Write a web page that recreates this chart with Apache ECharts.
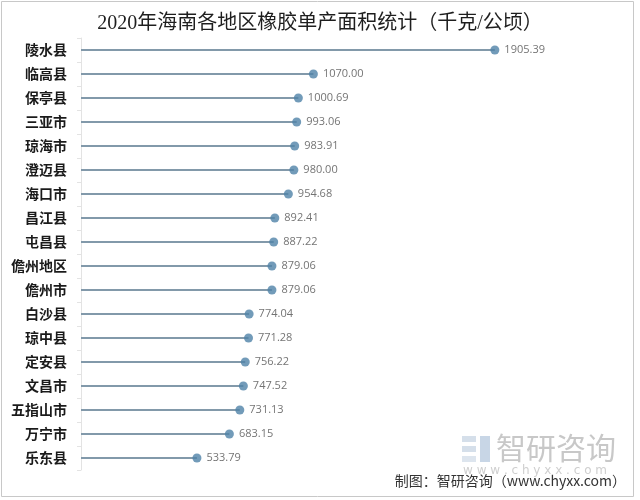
<!DOCTYPE html>
<html><head><meta charset="utf-8">
<script src="https://cdn.jsdelivr.net/npm/echarts@6/dist/echarts.min.js"></script>
<style>html,body{margin:0;padding:0;background:#fff}#c{width:640px;height:500px}</style>
</head><body><div id="c"></div>
<script>
var titleText = '2020年海南各地区橡胶单产面积统计（千克/公顷）';
var regions = ['陵水县','临高县','保亭县','三亚市','琼海市','澄迈县','海口市','昌江县','屯昌县','儋州地区','儋州市','白沙县','琼中县','定安县','文昌市','五指山市','万宁市','乐东县'];
var yieldValues = [1905.39,1070.00,1000.69,993.06,983.91,980.00,954.68,892.41,887.22,879.06,879.06,774.04,771.28,756.22,747.52,731.13,683.15,533.79];
var sourceText = '制图：智研咨询（www.chyxx.com）';

var chart = echarts.init(document.getElementById('c'), null, {renderer:'canvas'});
chart.setOption({
  backgroundColor:'#fff',
  animation:false,
  title:{text:titleText,left:'center',top:9,textStyle:{fontFamily:"'Liberation Serif','Noto Sans CJK SC'",fontSize:20,fontWeight:'normal',color:'#1e1e1e'}},
  grid:{left:81,top:38,width:543,height:432,containLabel:false},
  xAxis:{type:'value',min:0,max:2500,show:false},
  yAxis:{type:'category',data:regions,inverse:true,
    axisLine:{show:true,lineStyle:{color:'#e3e3e3',width:1}},
    axisTick:{show:true,length:4,lineStyle:{color:'#e3e3e3'}},
    axisLabel:{margin:14,fontSize:14,fontWeight:'bold',color:'#1a1a1a',fontFamily:"'Noto Sans CJK SC'"}},
  series:[
    {type:'bar',data:yieldValues,barWidth:2,itemStyle:{color:'#8299aa'},silent:true},
    {type:'scatter',data:yieldValues,symbolSize:9,itemStyle:{color:'#4f82a8'},
     label:{show:true,position:'right',distance:5,color:'#505050',fontSize:11,fontFamily:"'Open Sans','DejaVu Sans'",
       formatter:function(p){return p.value.toFixed(2);}}}
  ],
  graphic:[
    {type:'rect',shape:{x:1.5,y:1.5,width:632,height:495},style:{fill:'none',stroke:'#c8c8c8',lineWidth:1},silent:true},
    {type:'group',left:462,top:436,children:[
      {type:'rect',shape:{x:0,y:0,width:14,height:6},style:{fill:'#d5dfea'}},
      {type:'rect',shape:{x:0,y:10,width:14,height:6},style:{fill:'#d5dfea'}},
      {type:'rect',shape:{x:0,y:20,width:14,height:6},style:{fill:'#dde5ee'}},
      {type:'rect',shape:{x:18,y:0,width:10,height:26},style:{fill:'#c8d6e6'}}
    ]},
    {type:'text',left:496,top:433,style:{text:'智研咨询',font:"30px 'Noto Sans CJK SC'",fill:'#c8c8c8'}},
    {type:'text',left:463,top:465,style:{text:'w w w . c h y x x . c o m',font:"12px 'DejaVu Sans'",fill:'#cfcfcf'}},
    {type:'text',right:14,top:474,style:{text:sourceText,font:"14px 'Noto Sans CJK SC'",fill:'#333'}}
  ]
});
</script></body></html>
